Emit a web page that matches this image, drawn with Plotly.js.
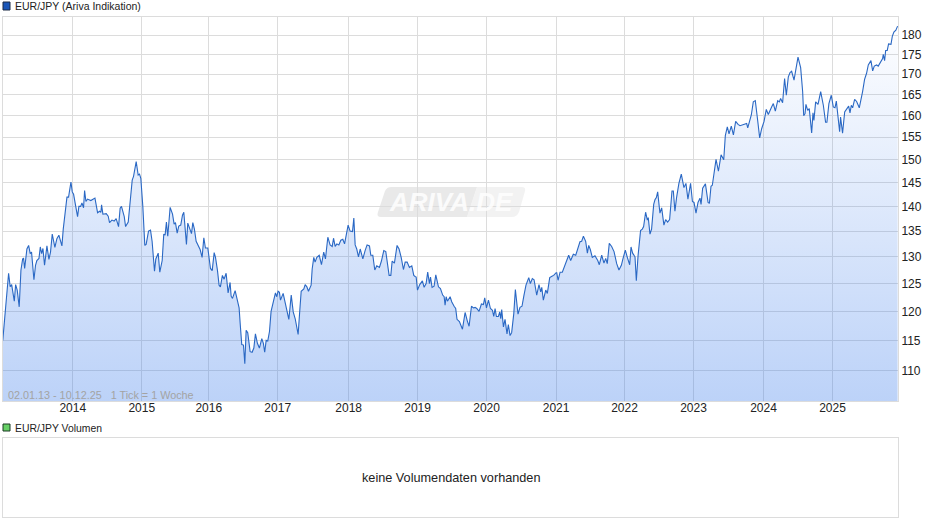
<!DOCTYPE html>
<html><head><meta charset="utf-8">
<script src="https://cdn.plot.ly/plotly-3.0.1.min.js"></script>
<style>html,body{margin:0;padding:0;background:#fff;overflow:hidden}#c{width:940px;height:526px}</style>
</head><body><div id="c"></div>
<script>
const weeksA=[0,1.4,1.9,4.4,5.6,6.7,8.7,9.7,10.9,12.4,13.7,15,15.7,16.5,18.2,19.5,20.7,21.7,23.5,24.7,25.7,27.3,28.3,29.3,30.3,31.5,33.3,34.8,36,37.3,39.3,40.8,42.3,44.6,45.6,47.3,48.4,49.6,51.4,52.4,53.4,56.4,57.4,58.7,59.7,60.9,61.7,62.7,63.9,66.4,68,69.5,71.5,73,74,74.5,75.5,78,79.5,80.5,82.3,84,85.5,87.3,88.5,89.5,91.6,92.6,94.6,96.1,97.6,98.6,100.6,102.1,103.1,104.1,105.6];
const rateA=[115,119,119.9,126.9,124.4,124.8,121.8,124.8,123.8,120.8,127.5,129.6,129.7,127.8,131.5,132.2,130.6,130.9,125.7,128.4,129.3,129.7,131.9,130.6,131.6,128.4,132.1,129.5,130.9,134.4,131.8,133.5,134.2,132.1,135.4,139.2,141.9,141.9,145.1,143,142.5,137.9,140,140,140.7,139.7,143.3,141,141.5,141.2,141.4,141.7,138.7,139,138.8,140.3,138.4,138.5,138,136.7,137.2,137,137.5,135.9,139.6,140,137.9,135.9,136.8,141.7,145.5,146.3,149.5,146.6,146.8,145.9,140];
const weeksB=[107.1,108.1,109.9,111.4,112.6,114.4,115.4,117.2,118.4,120.2,121.4,122.4,123.4,124.4,126.2,128,129.2,130.2,131.5,132.7,134.2,135.5,136.5,138.5,139.5,141.3,142.3,143.3,144.5,145.8,147,148.8,150.3,151.6,152.8,154.6,156.6,157.9,159.4,160.4,161.9,163.1,164.1,165.6,166.9,168.4,169.9,171.4,172.2,173.2,175.2,176.9,178.2,179,180.2,181.5,182.5,183.5,184.7,186.5,188,189.3,190.5,192,193.5,195.3,196.5,197.5,198.6,199.8,201.1,202.3,203.6,204.6,205.6,206.6,207.6,208.6];
const rateB=[132.2,132.4,135,135.2,133,127.3,129.6,130.7,127.1,129.3,134.4,134.2,136.8,134,139.8,138.4,136.4,136.7,134.6,136,136.2,138.2,138.8,132.4,136.6,135.1,134.5,136.7,135.4,133,132.4,131.4,129.9,133.7,131.7,131.7,127.8,127.4,130.8,129.9,127.4,124.7,124.4,126.5,125.8,126.9,123.3,125.2,122.7,122.3,123.7,121.8,120.6,117.9,114.3,114.2,111.1,116.7,116.3,113.1,113,113.7,116.1,114.5,113.7,115.3,114.5,113,115,114.9,116.5,120,121.3,121.8,123.3,122.6,123.6,123.4];
const weeksC=[209.4,211.4,212.9,214.4,215.7,217.5,219,220.5,221.5,222.7,223.7,225,227,228,229.3,230.5,232.5,233.3,234.5,235.5,236.8,238.6,240.3,242,243.3,245.1,246.8,248.4,249.4,250.6,251.9,253.4,254.9,256.4,257.7,258.9,260.4,261.9,263.7,264.7,265.7,266.9,268.2,269.5,271.5,273.2,274.7,276.5,277.5,279,280.5,282,284,285.5,287.3,288.8,290.3,291.3,292.6,293.6,295.3,297.3,298.8,300.4,302.1,303.4,304.9,306.6,308.4,309.9];
const rateC=[122,123.2,121.4,119.9,118.6,122.9,119.9,118.7,117.3,116,119.3,123.6,124,124.8,124.4,123.6,124.7,127.7,129.9,129,129.9,130.3,128.5,130.9,129.6,133.8,132.3,132,133.6,132,132.5,132.3,133.2,133.4,132.5,134.4,136.2,135,134.9,137.6,132.3,131.5,130,131.5,129.6,131.2,132.3,132.1,130.3,130.3,127.5,128.3,128,129.2,131.2,131,128.3,126.5,126.5,129.2,128.8,132.2,131.5,129.9,127.6,129,129,128,128.3,126.5];
const weeksD=[310.9,311.7,312.7,314.4,316.4,317.7,319.2,320.4,321.7,322.5,323.7,325.2,326.5,328.5,330,331.7,332.8,333.5,334.3,335.3,337.3,338.5,340.3,341.5,342.5,344.3,346.6,348.6,350.3,351.6,353.4,354.9,356.1,357.4,359.1,360.9,362.4,363.4,364.7,366.2,367.7,369.2,370.2,371.2,372.2,373.7,374.7,375.5,376.2,377.5,378.7,380.2,381.2,382.5,383.7,385.3,386.5,387.5,388.5,390,391.5,393,394.5,396.6,397.8,399.3,400.6,402.6,404.3,405.6,406.4,407.6,409.4,410.6,412.4,414.4,415.4,417.2];
const rateD=[126.3,126.2,123.8,124.8,125.5,124.3,125,127.1,125,126.2,124.3,124.5,126.6,124.4,124.1,122.9,122.6,121.1,122.6,121.8,122.6,121.7,120.9,120.5,118.6,118.2,116.9,119.8,118.3,117.4,120.9,120.6,120.7,120.5,120,121.3,121.2,122.4,120.6,122,120.5,120.2,119.1,120.5,119.1,119.1,119.9,118.7,120.3,117.3,118.6,116.1,117.7,115.8,116.3,119.6,123.9,121.1,119.5,120.7,120.9,122.9,124.7,126.1,125,125.9,125.7,122.9,124.8,123.5,124.3,122,123.8,123.2,126.1,126.4,126.5,127];
const weeksE=[417.7,418.7,420.2,421.9,423.9,425.4,426.7,428.2,430.2,432,434,435.2,436.5,437.8,439.5,440.8,441.8,443,444.5,446.5,448.6,449.8,451.6,453.3,454.6,455.8,457.3,459.1,460.9,462.9,464.6,466.4,467.6,469.4,470.9,472.7,473.7,474.9,476.7,477.7,479,479.9,480.9,482.2,483.2,484.7,486,486.7,488,489.2,490.8,491.8,492.8,493.8,495.5,496.8,498.5,499.8,501.3,502.8,504.6,505.6,506.8,508.1,509.8,511.6,513.6,515.1,516.6,518.6];
const rateE=[127,125.6,127.1,127.1,128.4,129.3,130.3,129.3,130.5,130.3,132.2,132.9,133,134,133,130.7,132.2,131.4,129.9,130.2,129.3,128.5,130.3,128.8,129.7,128.7,132.6,132,131,128.7,127.5,128.4,129.6,131.3,129.9,128.5,131.9,130.7,130,125.5,130.2,133.1,135.1,135.4,135.9,138.8,137.2,137.7,134.4,135.4,140.4,141.4,141.8,143,138.6,139.7,136.2,137.3,136.8,137.3,143.2,143.2,139,141.9,144.8,146.8,143.9,144.8,141.5,144.8];
const weeksF=[520,521.2,522.7,524.2,525.7,526.5,527.7,529.8,531.8,532.8,534,535,536.3,537.8,539.6,541.6,543.6,544.8,546.3,547.6,549.3,550.9,552.6,554.4,555.9,557.4,559.1,560.9,561.7,562.9,564.4,565.9,567.4,569.2,570.7,572.2,574,575.7,577.2,579.7,581,582.5,584.3,585.5,586.5,588,589.5,590.8,592.3,593.6,594.8,596.6,598.1,599.6,601.6,603.1,603.9,604.9,605.6,606.9,608.1,609.9,610.9,611.6,612.9,614.7,616.7,618.7,620.4,621.4,622.9,624.7,626.2,627.5,628.5,629.7,631,631.7,633.2,634.8,636.8,637.8,638.8,639.8,640.8,642.3,643.8,645.8,648.3,649.8,651.3,652.6,654.6,655.9,657.1,658.9,660.1,662.1,663.4,663.9,664.9,665.7,666.9,667.9,669.7,670.7,671.9,673.4,674.7];
const rateF=[141,140.8,138.6,140.8,141.7,140.4,143.8,144.7,140.8,140.6,144.2,144.4,147.4,150,147.4,151,149.9,155.3,157.3,155.7,157.5,155.5,158.6,157.9,157.6,157.8,158,158.1,157.1,158.7,160.1,163.2,163.5,158.8,154.8,156.9,158.6,161.4,160.2,162,162.8,161,163.5,163.2,164,163,168.9,164.8,169.3,170.4,170.7,168.5,172,174.3,171.6,165.7,159.9,160.4,162.6,161.2,161.6,155.9,160.6,158.8,163.2,162.6,165.7,162.4,158.4,158.4,162.8,164.8,162,161.8,163.4,160.4,156.2,159.6,155.9,160.8,161.7,162.2,160.6,162.4,161.8,163.8,163.3,161.8,165.7,168.7,170.2,172.3,173.4,170.8,172,172.3,172,173.1,173.9,175,173.4,176,176,177.7,177.6,179.7,180.8,181.3,182.4];

const yearTicks=[52.8,104.8,155.3,207.3,260.8,312.8,364.8,417.2,468.8,520.8,573.6,625.6];
const yearLabels=['2014','2015','2016','2017','2018','2019','2020','2021','2022','2023','2024','2025'];
const rateTicks=[110,115,120,125,130,135,140,145,150,155,160,165,170,175,180];

const weeks=[].concat(weeksA,weeksB,weeksC,weeksD,weeksE,weeksF);
const rate=[].concat(rateA,rateB,rateC,rateD,rateE,rateF);

const W=940,H=526,px=x=>x/W,py=y=>1-y/H;
const FONT='"Liberation Sans",Arial,sans-serif';
const GRID='#dcdcdc';
const pt=(x,y)=>px(x).toFixed(5)+','+py(y).toFixed(5);
const rectPath=(x0,y0,x1,y1)=>({type:'rect',xref:'paper',yref:'paper',x0:px(x0),x1:px(x1),y0:py(y0),y1:py(y1)});

const axisBase={showgrid:true,gridcolor:GRID,gridwidth:1,zeroline:false,showline:true,linecolor:GRID,linewidth:1,mirror:true,ticks:'',
  tickfont:{family:FONT,size:12,color:'#222'}};

const data=[{
  type:'scatter',mode:'lines',x:weeks,y:rate,hoverinfo:'skip',
  line:{color:'#2a68c4',width:1.1,shape:'linear'},
  fill:'tozeroy',
  fillgradient:{type:'vertical',start:105.2,stop:185,
    colorscale:[[0,'rgba(52,119,234,0.33)'],[1,'rgba(52,119,234,0)']]}
},{type:'scatter',mode:'lines',x:[],y:[],xaxis:'x2',yaxis:'y2',showlegend:false}];

const layout={
  width:W,height:H,margin:{l:0,r:0,t:0,b:0},paper_bgcolor:'#fff',plot_bgcolor:'#fff',showlegend:false,
  font:{family:FONT,size:12,color:'#222'},
  xaxis:Object.assign({},axisBase,{domain:[px(2.5),px(898)],range:[-0.2,675],tickmode:'array',tickvals:yearTicks,ticktext:yearLabels,ticklabelstandoff:-4}),
  yaxis:Object.assign({},axisBase,{domain:[py(401),py(16.5)],type:'log',range:[Math.log10(105.2),Math.log10(185)],side:'right',tickmode:'array',tickvals:rateTicks,ticktext:rateTicks.map(String)}),
  xaxis2:{domain:[px(2.5),px(898)],anchor:'y2',showgrid:false,zeroline:false,showticklabels:false,showline:true,linecolor:GRID,mirror:true,ticks:''},
  yaxis2:{domain:[py(517),py(437.5)],anchor:'x2',showgrid:false,zeroline:false,showticklabels:false,showline:true,linecolor:GRID,mirror:true,ticks:''},
  shapes:[
    {type:'path',xref:'paper',yref:'paper',layer:'below',line:{width:0},fillcolor:'rgba(225,225,225,0.75)',
      path:'M'+pt(391,187)+'L'+pt(477,187)+'L'+pt(467,217)+'L'+pt(381,217)+'Q'+pt(376,217)+' '+pt(378,212)+'L'+pt(385,191)+'Q'+pt(387,187)+' '+pt(391,187)+'Z'},
    {type:'path',xref:'paper',yref:'paper',layer:'below',line:{width:0},fillcolor:'rgba(235,235,235,0.65)',
      path:'M'+pt(477,187)+'L'+pt(522,187)+'Q'+pt(526,187)+' '+pt(525,191)+'L'+pt(519,212)+'Q'+pt(517,217)+' '+pt(512,217)+'L'+pt(467,217)+'Z'},
    Object.assign(rectPath(3,2,10,10),{fillcolor:'#1a56b8',line:{color:'#1c2a44',width:1}}),
    Object.assign(rectPath(3,424,10,431),{fillcolor:'#66d066',line:{color:'#1c3a24',width:1}})
  ],
  annotations:[
    {xref:'paper',yref:'paper',x:px(13),y:py(6),xanchor:'left',yanchor:'middle',showarrow:false,text:'EUR/JPY (Ariva Indikation)',font:{family:FONT,size:10.5,color:'#222'}},
    {xref:'paper',yref:'paper',x:px(13),y:py(428),xanchor:'left',yanchor:'middle',showarrow:false,text:'EUR/JPY Volumen',font:{family:FONT,size:10.4,color:'#222'}},
    {xref:'paper',yref:'paper',x:px(451),y:py(477.5),xanchor:'center',yanchor:'middle',showarrow:false,text:'keine Volumendaten vorhanden',font:{family:FONT,size:12.7,color:'#222'}},
    {xref:'paper',yref:'paper',x:px(6),y:py(395),xanchor:'left',yanchor:'middle',showarrow:false,text:'02.01.13 - 10.12.25   1 Tick = 1 Woche',font:{family:FONT,size:10.8,color:'#a3a3a3'}},
    {xref:'paper',yref:'paper',x:px(451),y:py(202),xanchor:'center',yanchor:'middle',showarrow:false,text:'<b><i>ARIVA.DE</i></b>',font:{family:FONT,size:26,color:'rgba(255,255,255,0.85)'}}
  ]
};
Plotly.newPlot('c',data,layout,{displayModeBar:false,staticPlot:true});
</script></body></html>
